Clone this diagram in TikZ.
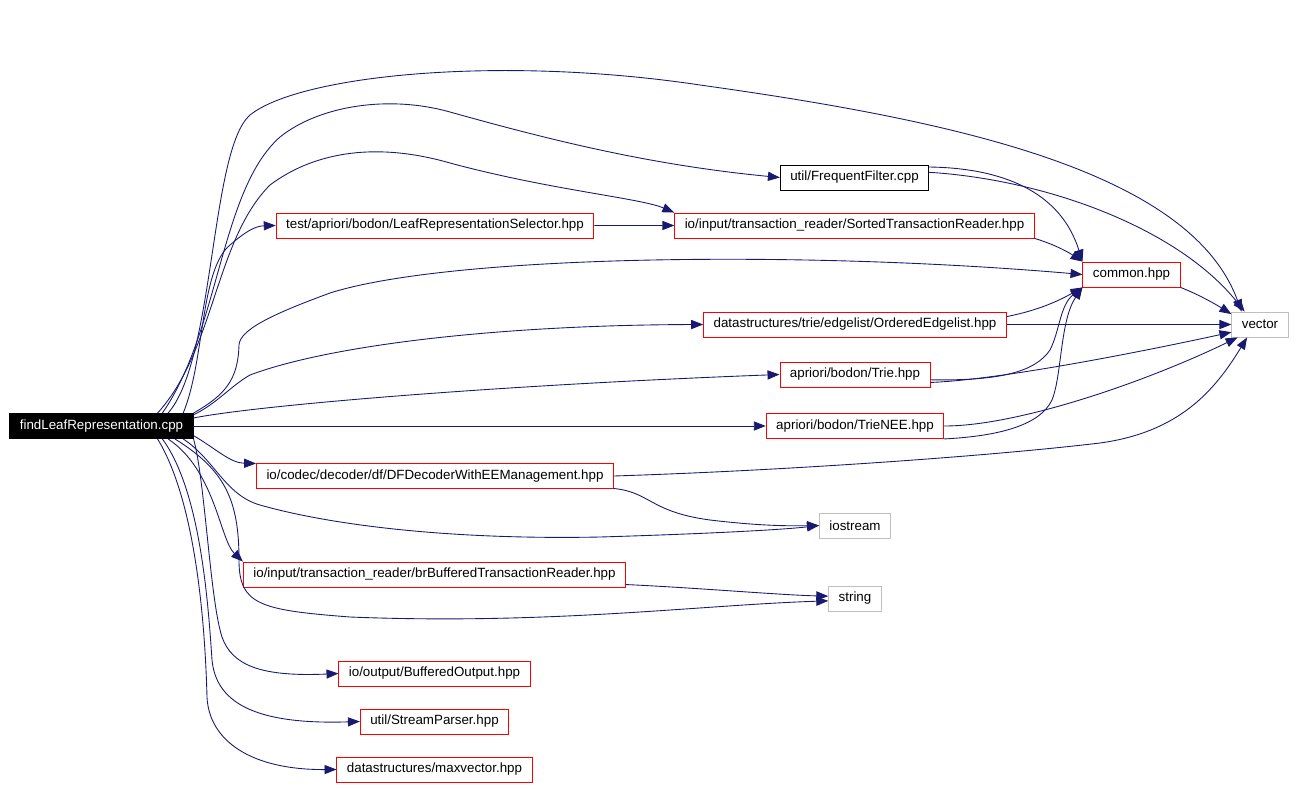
\documentclass[tikz,border=0pt]{standalone}
\usepackage{fontspec}
\setmainfont{Liberation Sans}
\usetikzlibrary{arrows.meta}
\definecolor{edgeblue}{HTML}{191970}
\definecolor{boxgray}{HTML}{BFBFBF}

\begin{document}
\begin{tikzpicture}[x=0.02cm, y=-0.02cm, node distance=0.96cm,
  font=\fontsize{7.6}{9}\selectfont,
  file node/.style={draw=red, line width=0.5pt, minimum height=0.5cm, inner xsep=0.2cm, inner ysep=0pt},
  plain node/.style={file node, draw=black},
  sys node/.style={file node, draw=boxgray},
  root node/.style={file node, draw=black, fill=black, text=white},
  link/.style={draw=edgeblue, line width=0.5pt, -{Triangle[length=6.8pt,width=5.2pt]}}]
\useasboundingbox (0,0) rectangle (1298,788);
\node[root node]  (find) at (101.5,426) {findLeafRepresentation.cpp};
\node[plain node] (filter) at (854.5,177.5) {util/FrequentFilter.cpp};
\node[file node, below of=filter] (sorted) {io/input/transaction\_reader/SortedTransactionReader.hpp};
\node[file node] (selector) at (435,225.5) {test/apriori/bodon/LeafRepresentationSelector.hpp};
\node[file node] (common) at (1131.5,274.5) {common.hpp};
\node[file node] (edgelist) at (855,324.5) {datastructures/trie/edgelist/OrderedEdgelist.hpp};
\node[sys node]  (vector) at (1260,324.5) {vector};
\node[file node] (trie) at (855,374.5) {apriori/bodon/Trie.hpp};
\node[file node] (trienee) at (855,426) {apriori/bodon/TrieNEE.hpp};
\node[file node] (decoder) at (435,476) {io/codec/decoder/df/DFDecoderWithEEManagement.hpp};
\node[sys node]  (iostream) at (855,525.5) {iostream};
\node[file node] (brreader) at (434.5,574.5) {io/input/transaction\_reader/brBufferedTransactionReader.hpp};
\node[sys node]  (string) at (855,598.5) {string};
\node[file node] (output) at (434.5,673.5) {io/output/BufferedOutput.hpp};
\node[file node, below of=output] (parser) {util/StreamParser.hpp};
\node[file node, below of=parser] (maxvec) {datastructures/maxvector.hpp};
\path
(find) edge[link] (trienee)
(selector) edge[link] (sorted)
(edgelist) edge[link] (vector);
\draw[link] (find.11) .. controls (215,360) and (210,150) .. (250,115) .. controls (300,75) and (500,55) .. (700,85) .. controls (950,120) and (1190,170) .. (vector.145);
\draw[link] (find.12) .. controls (220,330) and (220,190) .. (280,137) .. controls (320,105) and (390,95) .. (450,112) .. controls (550,140) and (650,165) .. (filter.west);
\draw[link] (find.13) .. controls (215,350) and (215,240) .. (270,185) .. controls (310,155) and (370,140) .. (450,163) .. controls (550,190) and (640,198) .. (sorted.north west);
\draw[link] (find.9) .. controls (205,360) and (200,270) .. (230,245) .. controls (245,232) and (255,226) .. (selector.west);
\draw[link] (find.8) .. controls (225,395) and (238,380) .. (239,345) .. controls (240,330) and (270,315) .. (330,293) .. controls (450,255) and (800,250) .. (common.west);
\draw[link] (find.7) .. controls (215,405) and (232,385) .. (250,375) .. controls (330,345) and (500,325) .. (edgelist.west);
\draw[link] (find.5) .. controls (260,405) and (500,385) .. (trie.west);
\draw[link] (find.354) .. controls (215,448) and (230,463) .. (decoder.176);
\draw[link] (find.351) .. controls (215,460) and (225,495) .. (260,505) .. controls (330,525) and (450,540) .. (600,537) .. controls (700,534) and (780,530) .. (iostream.west);
\draw[link] (find.349) .. controls (215,470) and (220,540) .. (brreader.north west);
\draw[link] (find.350) .. controls (225,470) and (239,500) .. (239,560) .. controls (239,605) and (260,610) .. (350,617) .. controls (550,625) and (700,605) .. (string.185);
\draw[link] (find.352) .. controls (205,480) and (210,600) .. (222,637) .. controls (232,665) and (260,677) .. (output.west);
\draw[link] (find.348) .. controls (200,490) and (208,600) .. (212,660) .. controls (216,700) and (250,725) .. (parser.west);
\draw[link] (find.347) .. controls (195,500) and (205,620) .. (207,697) .. controls (209,740) and (250,770) .. (maxvec.west);
\draw[link] (filter.8) .. controls (1000,168) and (1060,190) .. (common.north west);
\draw[link] (filter.4) .. controls (1050,180) and (1180,230) .. (vector.140);
\draw[link] (sorted.south east) .. controls (1050,243) and (1065,250) .. (common.north west);
\draw[link] (common.south east) .. controls (1195,293) and (1212,302) .. (vector.160);
\draw[link] (edgelist.3) .. controls (1040,310) and (1060,300) .. (common.south west);
\draw[link] (trie.356) .. controls (1000,381) and (1035,372) .. (1050,350) .. controls (1060,330) and (1060,305) .. (common.south west);
\draw[link] (trie.354) .. controls (1000,380) and (1150,350) .. (vector.195);
\draw[link] (trienee.south east) .. controls (1000,436) and (1040,425) .. (1052,400) .. controls (1062,375) and (1060,320) .. (common.south west);
\draw[link] (trienee.east) .. controls (1020,426) and (1150,380) .. (vector.210);
\draw[link] (decoder.east) .. controls (800,470) and (1000,455) .. (1100,443) .. controls (1180,432) and (1215,390) .. (vector.225);
\draw[link] (decoder.356) .. controls (650,492) and (650,512) .. (710,520) .. controls (760,526) and (790,526) .. (iostream.west);
\draw[link] (brreader.357) .. controls (700,588) and (780,595) .. (string.175);
\end{tikzpicture}
\end{document}
